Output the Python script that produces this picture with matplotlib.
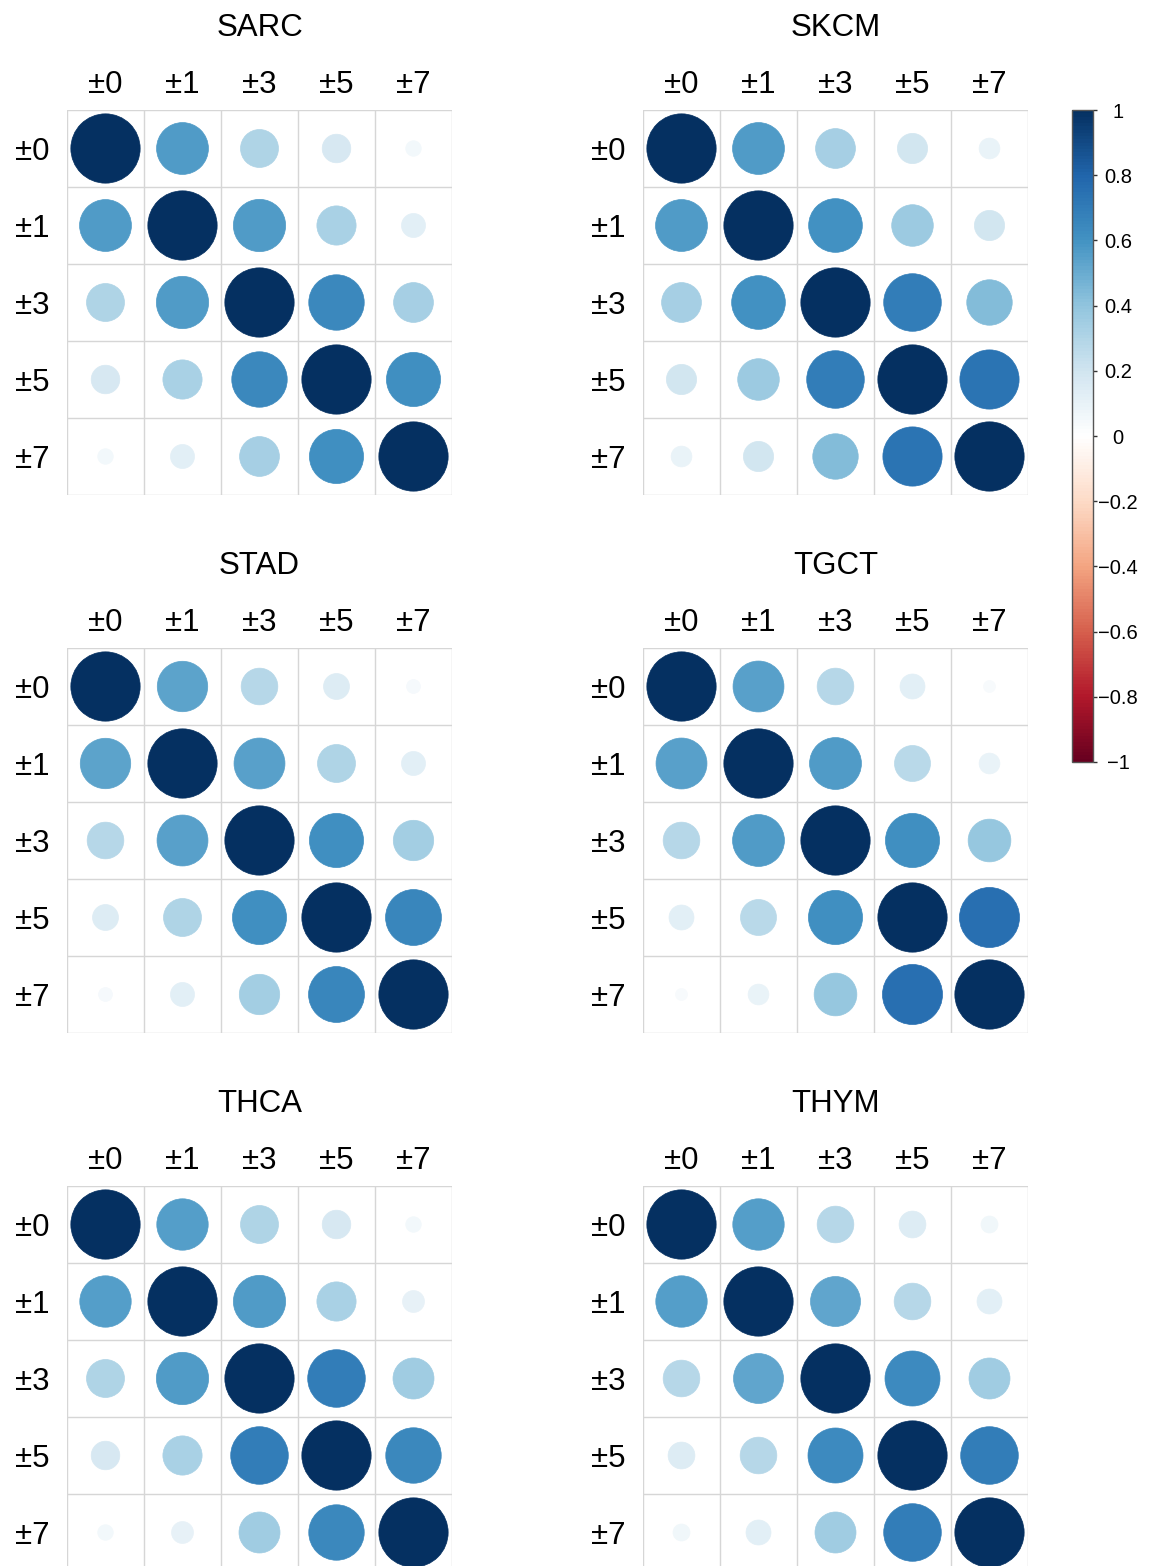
import numpy as np
import matplotlib
matplotlib.use('Agg')
import matplotlib.pyplot as plt
from matplotlib.colors import LinearSegmentedColormap, Normalize
from matplotlib.cm import ScalarMappable
from matplotlib.patches import Circle

plt.rcParams['font.family'] = ['Liberation Sans', 'DejaVu Sans']

labels = ['±0', '±1', '±3', '±5', '±7']
cancers = ['SARC', 'SKCM', 'STAD', 'TGCT', 'THCA', 'THYM']

sarc = [[1.00, 0.56, 0.30, 0.17, 0.05],
        [0.56, 1.00, 0.57, 0.32, 0.12],
        [0.30, 0.57, 1.00, 0.64, 0.33],
        [0.17, 0.32, 0.64, 1.00, 0.61],
        [0.05, 0.12, 0.33, 0.61, 1.00]]
skcm = [[1.00, 0.56, 0.33, 0.19, 0.09],
        [0.56, 1.00, 0.60, 0.36, 0.19],
        [0.33, 0.60, 1.00, 0.69, 0.43],
        [0.19, 0.36, 0.69, 1.00, 0.73],
        [0.09, 0.19, 0.43, 0.73, 1.00]]
stad = [[1.00, 0.53, 0.28, 0.14, 0.04],
        [0.53, 1.00, 0.54, 0.30, 0.12],
        [0.28, 0.54, 1.00, 0.61, 0.34],
        [0.14, 0.30, 0.61, 1.00, 0.65],
        [0.04, 0.12, 0.34, 0.65, 1.00]]
tgct = [[1.00, 0.54, 0.28, 0.13, 0.03],
        [0.54, 1.00, 0.56, 0.27, 0.09],
        [0.28, 0.56, 1.00, 0.61, 0.38],
        [0.13, 0.27, 0.61, 1.00, 0.75],
        [0.03, 0.09, 0.38, 0.75, 1.00]]
thca = [[1.00, 0.55, 0.30, 0.17, 0.05],
        [0.55, 1.00, 0.57, 0.32, 0.10],
        [0.30, 0.57, 1.00, 0.69, 0.35],
        [0.17, 0.32, 0.69, 1.00, 0.64],
        [0.05, 0.10, 0.35, 0.64, 1.00]]
thym = [[1.00, 0.55, 0.28, 0.15, 0.06],
        [0.55, 1.00, 0.52, 0.28, 0.13],
        [0.28, 0.52, 1.00, 0.63, 0.35],
        [0.15, 0.28, 0.63, 1.00, 0.69],
        [0.06, 0.13, 0.35, 0.69, 1.00]]
matrices = [sarc, skcm, stad, tgct, thca, thym]

cbar_ticks = [-1, -0.8, -0.6, -0.4, -0.2, 0, 0.2, 0.4, 0.6, 0.8, 1]
cbar_labels = ['\u22121', '\u22120.8', '\u22120.6', '\u22120.4', '\u22120.2',
               '0', '0.2', '0.4', '0.6', '0.8', '1']

# corrplot-style red/blue palette
rdbu = LinearSegmentedColormap.from_list('rdbu', [
    '#67001F', '#B2182B', '#D6604D', '#F4A582', '#FDDBC7', '#FFFFFF',
    '#D1E5F0', '#92C5DE', '#4393C3', '#2166AC', '#053061'], N=200)
norm = Normalize(-1, 1)

W, H = 1155, 1566
fig = plt.figure(figsize=(W / 100, H / 100), dpi=100)


def box(left, top, w, h):
    return [left / W, 1 - (top + h) / H, w / W, h / H]


lefts = [67, 643]
tops = [110, 648, 1186]
size = 385
fs = 22.5

for k, (name, mat) in enumerate(zip(cancers, matrices)):
    left = lefts[k % 2]
    top = tops[k // 2]
    ax = fig.add_axes(box(left, top, size, size))
    mat = np.array(mat)
    n = len(labels)
    ax.set_xlim(0.5, n + 0.5)
    ax.set_ylim(n + 0.5, 0.5)
    for p in np.arange(0.5, n + 1, 1):
        ax.axhline(p, color='#D6D6D6', lw=1, zorder=1)
        ax.axvline(p, color='#D6D6D6', lw=1, zorder=1)
    for i in range(n):
        for j in range(n):
            v = mat[i, j]
            c = rdbu(norm(v))
            ax.add_patch(Circle((j + 1, i + 1), 0.45 * np.sqrt(abs(v)),
                                facecolor=c, edgecolor=c, lw=0.5, zorder=2))
    for s in ax.spines.values():
        s.set_visible(False)
    ax.set_xticks(range(1, n + 1))
    ax.set_yticks(range(1, n + 1))
    ax.set_xticklabels(labels, fontsize=fs)
    ax.set_yticklabels(labels, fontsize=fs)
    ax.xaxis.tick_top()
    ax.tick_params(axis='x', length=0, pad=7)
    ax.tick_params(axis='y', length=0, pad=12.5)
    fig.text((left + size / 2) / W, 1 - (top - 74) / H, name,
             ha='center', va='baseline', fontsize=fs)

# colour legend
cax = fig.add_axes(box(1072, 110, 21, 652))
sm = ScalarMappable(norm=norm, cmap=rdbu)
cb = fig.colorbar(sm, cax=cax, ticks=cbar_ticks)
cb.outline.set_edgecolor('#555555')
cb.outline.set_linewidth(1)
cax.set_yticklabels(cbar_labels, fontsize=14.5)
cax.tick_params(axis='y', length=3, width=1, color='#333333', pad=15)
for t in cax.get_yticklabels():
    t.set_horizontalalignment('center')

fig.savefig('out.png', dpi=100)
